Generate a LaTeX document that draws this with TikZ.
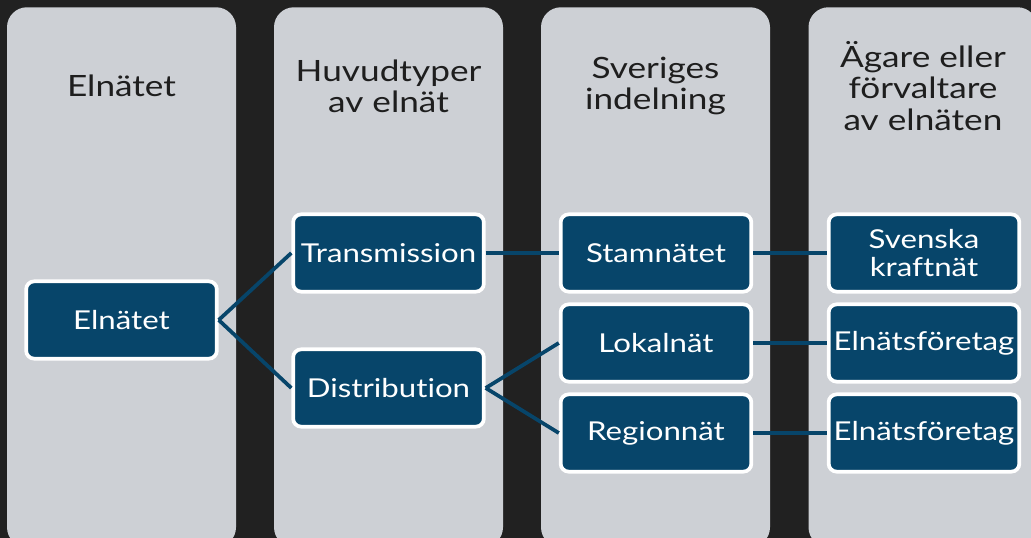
\documentclass[tikz,border=0pt]{standalone}
\usepackage{fontspec}
\setmainfont{Lato}
\newfontfamily\wideface[FakeStretch=1.2, Ligatures=NoCommon]{Lato}
\usetikzlibrary{positioning}
\definecolor{bgdark}{HTML}{212121}
\definecolor{colgray}{HTML}{CDD0D5}
\definecolor{netblue}{HTML}{07456A}
\definecolor{headtext}{HTML}{1E1E1E}

\begin{document}
\begin{tikzpicture}[
        x=0.75pt, y=-0.75pt,
        column/.style={rectangle, rounded corners=15pt, fill=colgray, minimum width=171.75pt, minimum height=405pt, anchor=north},
        header/.style={text=headtext, align=center, font=\wideface\fontsize{22}{23.5}\selectfont},
        netbox/.style={rectangle, rounded corners=6pt, draw=white, line width=2.8pt, fill=netblue, text=white, minimum width=143pt, minimum height=58pt, inner sep=1pt, align=center, font=\wideface\fontsize{19.5}{21.5}\selectfont},
        link/.style={draw=netblue, line width=2.8pt}
    ]
    
    % background
    \clip (0,0) rectangle (1031,538);
    \fill[bgdark] (0,0) rectangle (1031,538);
    
    % columns
    \node[column] (col1) at (121.5, 7) {};
    \node[column] (col2) at (388.5, 7) {};
    \node[column] (col3) at (655.5, 7) {};
    \node[column] (col4) at (923, 7) {};
    
    % headers
    \node[header] (h1) at (121.5, 86) {Elnätet};
    \node[header] (h2) at (388.5, 86) {Huvudtyper\\av elnät};
    \node[header] (h3) at (655.5, 86) {Sveriges\\indelning};
    \node[header] (h4) at (923, 86) {Ägare eller\\förvaltare\\av elnäten};
    
    % boxes
    \node[netbox] (elnat) at (121.5, 320) {Elnätet};
    \node[netbox] (trans) at (388.5, 253) {Transmission};
    \node[netbox] (dist) at (388.5, 388) {Distribution};
    \node[netbox] (stam) at (656, 253) {Stamnätet};
    \node[netbox] (lokal) at (656, 343) {Lokalnät};
    \node[netbox] (region) at (656, 433) {Regionnät};
    \node[netbox] (svk) at (924, 253) {Svenska\\kraftnät};
    \node[netbox] (elf1) at (924, 343) {Elnätsföretag};
    \node[netbox] (elf2) at (924, 433) {Elnätsföretag};
    
    % connectors
    \draw[link] (elnat.east) -- (trans.west);
    \draw[link] (elnat.east) -- (dist.west);
    \draw[link] (trans.east) -- (stam.west);
    \draw[link] (dist.east) -- (lokal.west);
    \draw[link] (dist.east) -- (region.west);
    \draw[link] (stam.east) -- (svk.west);
    \draw[link] (lokal.east) -- (elf1.west);
    \draw[link] (region.east) -- (elf2.west);
    
\end{tikzpicture}
\end{document}
